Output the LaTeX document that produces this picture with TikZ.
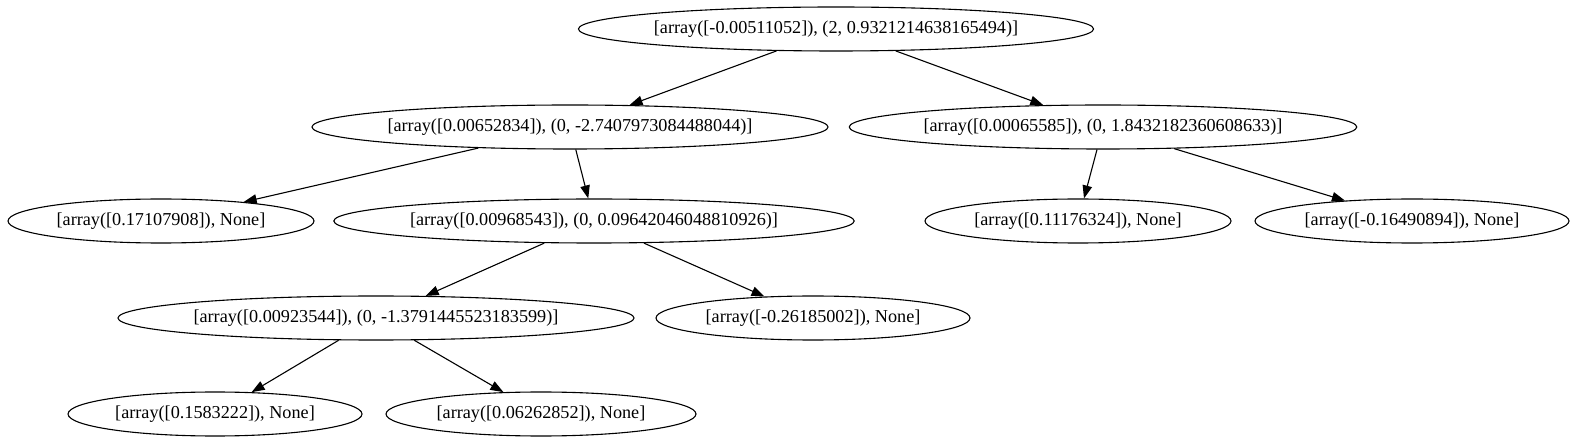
\documentclass[tikz,border=0pt]{standalone}
\usepackage{fontspec}
\setmainfont{Liberation Serif}
\usetikzlibrary{shapes.geometric,arrows.meta}
\begin{document}
\begin{tikzpicture}[x=1pt,y=-1pt,
  tn/.style={draw,ellipse,line width=1.1pt,inner sep=0pt,minimum height=44pt,
    font=\fontsize{18.2}{22}\selectfont},
  edge/.style={line width=1.1pt,-{Triangle[length=13pt,width=9.5pt]}}]
\useasboundingbox (0,0) rectangle (1576,443);
\node[tn,minimum width=512pt] (root) at (836,29) {[array([-0.00511052]), (2, 0.9321214638165494)]};
\node[tn,minimum width=512pt] (l1) at (570,127) {[array([0.00652834]), (0, -2.7407973084488044)]};
\node[tn,minimum width=502pt] (r1) at (1103,127) {[array([0.00065585]), (0, 1.8432182360608633)]};
\node[tn,minimum width=306pt] (a) at (161,221) {[array([0.17107908]), None]};
\node[tn,minimum width=518pt] (b) at (594,221) {[array([0.00968543]), (0, 0.09642046048810926)]};
\node[tn,minimum width=306pt] (c) at (1078,221) {[array([0.11176324]), None]};
\node[tn,minimum width=314pt] (d) at (1412,221) {[array([-0.16490894]), None]};
\node[tn,minimum width=512pt] (e) at (376,318) {[array([0.00923544]), (0, -1.3791445523183599)]};
\node[tn,minimum width=314pt] (f) at (813,318) {[array([-0.26185002]), None]};
\node[tn,minimum width=294pt] (g) at (215,414) {[array([0.1583222]), None]};
\node[tn,minimum width=310pt] (h) at (541,414) {[array([0.06262852]), None]};
\draw[edge] (root) -- (l1);
\draw[edge] (root) -- (r1);
\draw[edge] (l1) -- (a);
\draw[edge] (l1) -- (b);
\draw[edge] (r1) -- (c);
\draw[edge] (r1) -- (d);
\draw[edge] (b) -- (e);
\draw[edge] (b) -- (f);
\draw[edge] (e) -- (g);
\draw[edge] (e) -- (h);
\end{tikzpicture}
\end{document}
